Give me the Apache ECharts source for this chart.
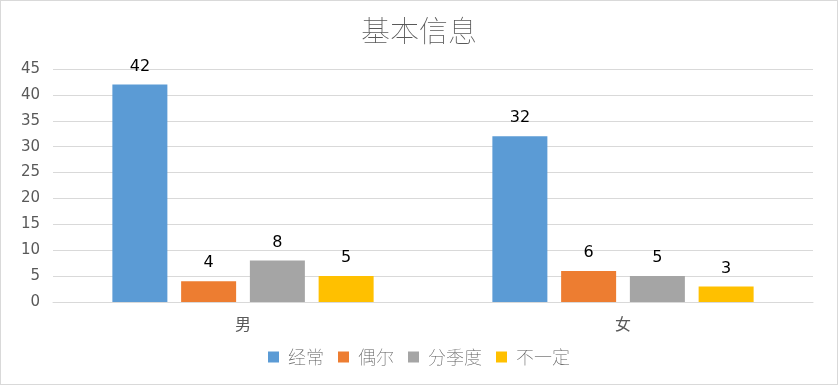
<!DOCTYPE html>
<html><head><meta charset="utf-8">
<script src="https://cdn.jsdelivr.net/npm/echarts@6/dist/echarts.min.js"></script>
<style>
html,body{margin:0;padding:0;background:#fff;}
#c{width:836px;height:383px;border:1px solid #d9d9d9;}
</style></head>
<body><div id="c"></div>
<script>
const categories = ['男', '女'];
const seriesNames = ['经常', '偶尔', '分季度', '不一定'];
const often = [42, 32];
const sometimes = [4, 6];
const quarterly = [8, 5];
const uncertain = [5, 3];
const yTicks = {min: 0, max: 45, interval: 5};
const colors = ['#5B9BD5', '#ED7D31', '#A5A5A5', '#FFC000'];

const dataSets = [often, sometimes, quarterly, uncertain];
const chart = echarts.init(document.getElementById('c'));
const font = '"Noto Sans CJK SC", "Microsoft YaHei", sans-serif';
chart.setOption({
  animation: false,
  color: colors,
  title: {
    text: '基本信息', left: 'center', top: 10,
    textStyle: {fontFamily: font, fontSize: 29, fontWeight: 'lighter', color: '#595959'}
  },
  legend: {
    bottom: 13, left: 'center', itemWidth: 11, itemHeight: 11, itemGap: 14,
    icon: 'rect',
    textStyle: {fontFamily: font, fontSize: 18, fontWeight: 'lighter', color: '#595959', padding: [0, 0, 0, 4]},
    data: seriesNames
  },
  grid: {left: 52, right: 24, top: 68, bottom: 82},
  xAxis: {
    type: 'category', data: categories,
    axisLine: {lineStyle: {color: '#d9d9d9'}},
    axisTick: {show: false},
    axisLabel: {fontFamily: font, fontSize: 16, color: '#595959', margin: 14}
  },
  yAxis: {
    type: 'value', min: yTicks.min, max: yTicks.max, interval: yTicks.interval,
    axisLine: {show: false}, axisTick: {show: false},
    splitLine: {lineStyle: {color: '#d9d9d9'}},
    axisLabel: {fontFamily: '"DejaVu Sans", sans-serif', fontSize: 15, color: '#595959', margin: 13}
  },
  series: seriesNames.map((n, i) => ({
    name: n, type: 'bar', data: dataSets[i],
    barWidth: 55, barGap: '25%',
    label: {show: true, position: 'top', distance: 10, color: '#000', fontSize: 16,
      fontFamily: '"DejaVu Sans", sans-serif'}
  }))
});
</script></body></html>
